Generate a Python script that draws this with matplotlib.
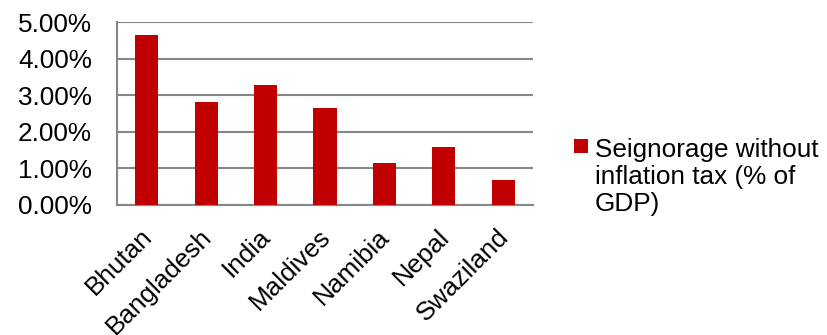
import matplotlib.pyplot as plt
import matplotlib.transforms as mtransforms
from matplotlib.ticker import PercentFormatter
from matplotlib.patches import Rectangle

plt.rcParams['font.family'] = ['Liberation Sans', 'DejaVu Sans']

# Seignorage without inflation tax, % of GDP
countries = ['Bhutan', 'Bangladesh', 'India', 'Maldives', 'Namibia', 'Nepal', 'Swaziland']
seignorage = [4.64, 2.81, 3.28, 2.65, 1.15, 1.58, 0.68]
yticks = [0, 1, 2, 3, 4, 5]
series_label = 'Seignorage without\ninflation tax (% of\nGDP)'

bar_color = '#C00000'
axis_color = '#868686'
fs = 18.8

fig = plt.figure(figsize=(8.27, 3.35), dpi=100)
ax = fig.add_axes([117 / 827, 1 - 205 / 335, 416 / 827, 183 / 335])

x = range(len(countries))
ax.bar(x, seignorage, width=0.39, color=bar_color, zorder=3)

ax.set_xlim(-0.5, len(countries) - 0.5)
ax.set_ylim(0, 5)
ax.set_yticks(yticks)
ax.yaxis.set_major_formatter(PercentFormatter(decimals=2))
ax.grid(axis='y', color=axis_color, linewidth=1.5, zorder=0)

ax.set_xticks(list(x))
ax.set_xticklabels(countries, rotation=45, ha='right', rotation_mode='anchor',
                   fontsize=fs)
ax.tick_params(axis='x', length=0, pad=14)
ax.tick_params(axis='y', length=0, pad=18, labelsize=fs)

# nudge the rotated labels left so their ends sit over the bars
shift = mtransforms.ScaledTranslation(-0.07, 0, fig.dpi_scale_trans)
for lbl in ax.get_xticklabels():
    lbl.set_transform(lbl.get_transform() + shift)

for side in ['top', 'right']:
    ax.spines[side].set_visible(False)
for side in ['left', 'bottom']:
    ax.spines[side].set_color(axis_color)
    ax.spines[side].set_linewidth(1.5)

# legend: swatch aligned with the first line of the label
fig.add_artist(Rectangle((574 / 827, 1 - 153 / 335), 14 / 827, 14 / 335,
                         transform=fig.transFigure, facecolor=bar_color,
                         edgecolor='none'))
fig.text(595 / 827, 1 - 138 / 335, series_label, fontsize=fs, va='top',
         ha='left', linespacing=1.15)

fig.savefig('out.png', dpi=100)
